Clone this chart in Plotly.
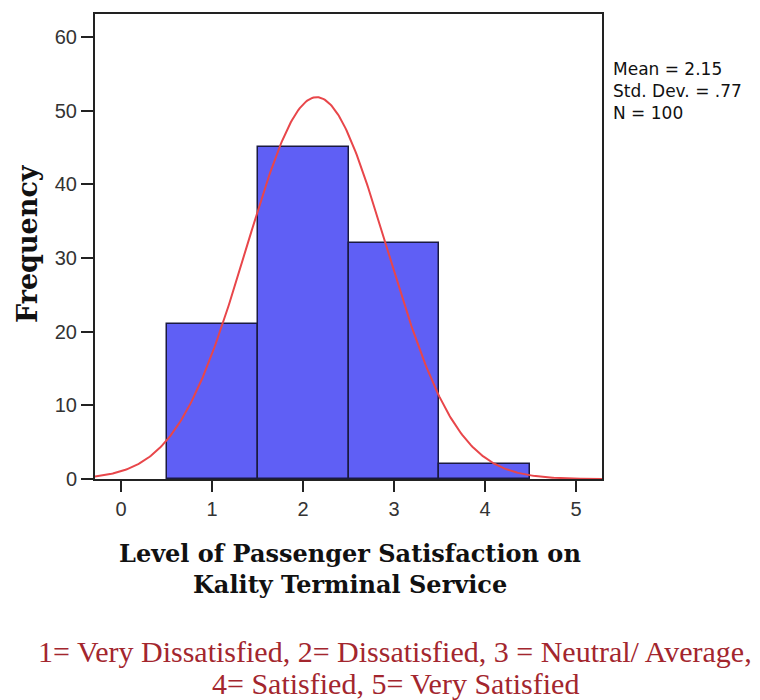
import numpy as np
import plotly.graph_objects as go

# Data
categories = [1, 2, 3, 4]
frequencies = [21, 45, 32, 2]
mean_val = 2.15
std_val = 0.77
n_total = 100
x_ticks = [0, 1, 2, 3, 4, 5]
y_ticks = [0, 10, 20, 30, 40, 50, 60]
stats_lines = ["Mean = 2.15", "Std. Dev. = .77", "N = 100"]
title_lines = ["Level of Passenger Satisfaction on", "Kality Terminal Service"]
note_lines = ["1= Very Dissatisfied, 2= Dissatisfied, 3 = Neutral/ Average,",
              "4= Satisfied, 5= Very Satisfied"]

# fitted normal curve from the reported statistics
xc = np.linspace(-0.286, 5.286, 400)
yc = n_total * 1.0 * np.exp(-0.5 * ((xc - mean_val) / std_val) ** 2) / (std_val * np.sqrt(2 * np.pi))

fig = go.Figure()
fig.add_trace(go.Bar(
    x=categories, y=frequencies, width=1,
    marker=dict(color="#5f5ff5", line=dict(color="#1a1a40", width=1.5)),
    hoverinfo="skip",
))
fig.add_trace(go.Scatter(
    x=xc, y=yc, mode="lines",
    line=dict(color="#e8464a", width=2),
    hoverinfo="skip",
))

L, T, R, B = 95, 12, 602, 479
W, H = 760, 700
fig.update_layout(
    width=W, height=H,
    margin=dict(l=L, r=W - R, t=T, b=H - B),
    paper_bgcolor="white", plot_bgcolor="white",
    showlegend=False,
    bargap=0,
)
fig.update_xaxes(
    range=[-0.286, 5.286], tickvals=x_ticks, ticks="outside", ticklen=11,
    tickwidth=2, tickcolor="#222", showline=True, linecolor="#222", linewidth=2,
    mirror=True, showgrid=False, zeroline=False,
    tickfont=dict(family="Liberation Sans, Arial", size=20, color="#333"),
)
fig.update_yaxes(
    range=[0, 63.1], tickvals=y_ticks, ticks="outside", ticklen=12,
    tickwidth=2, tickcolor="#222", showline=True, linecolor="#222", linewidth=2,
    mirror=True, showgrid=False, zeroline=False,
    tickfont=dict(family="Liberation Sans, Arial", size=20, color="#333"),
)

def px(X):
    return (X - L) / (R - L)

def py(Y):
    return (B - Y) / (B - T)

fig.add_annotation(
    xref="paper", yref="paper", x=px(27), y=py(243), xanchor="center", yanchor="middle",
    showarrow=False, textangle=-90, text="<b>Frequency</b>",
    font=dict(family="DejaVu Serif, serif", size=27, color="#111"),
)

fig.add_annotation(
    xref="paper", yref="paper", x=px(611), y=py(55),
    xanchor="left", yanchor="top", showarrow=False, align="left",
    text="<br>".join(stats_lines),
    font=dict(family="DejaVu Sans, sans-serif", size=17, color="#111"),
)

for i, s in enumerate(title_lines):
    fig.add_annotation(
        xref="paper", yref="paper", x=px(350), y=py(554 + 31 * i),
        xanchor="center", yanchor="middle", showarrow=False, text="<b>" + s + "</b>",
        font=dict(family="DejaVu Serif, serif", size=24, color="#111"),
    )

for i, s in enumerate(note_lines):
    fig.add_annotation(
        xref="paper", yref="paper", x=px(395), y=py(652 + 32 * i),
        xanchor="center", yanchor="middle", showarrow=False, text=s,
        font=dict(family="Liberation Serif, serif", size=30, color="#a3262e"),
    )

fig.write_html("out.html")
